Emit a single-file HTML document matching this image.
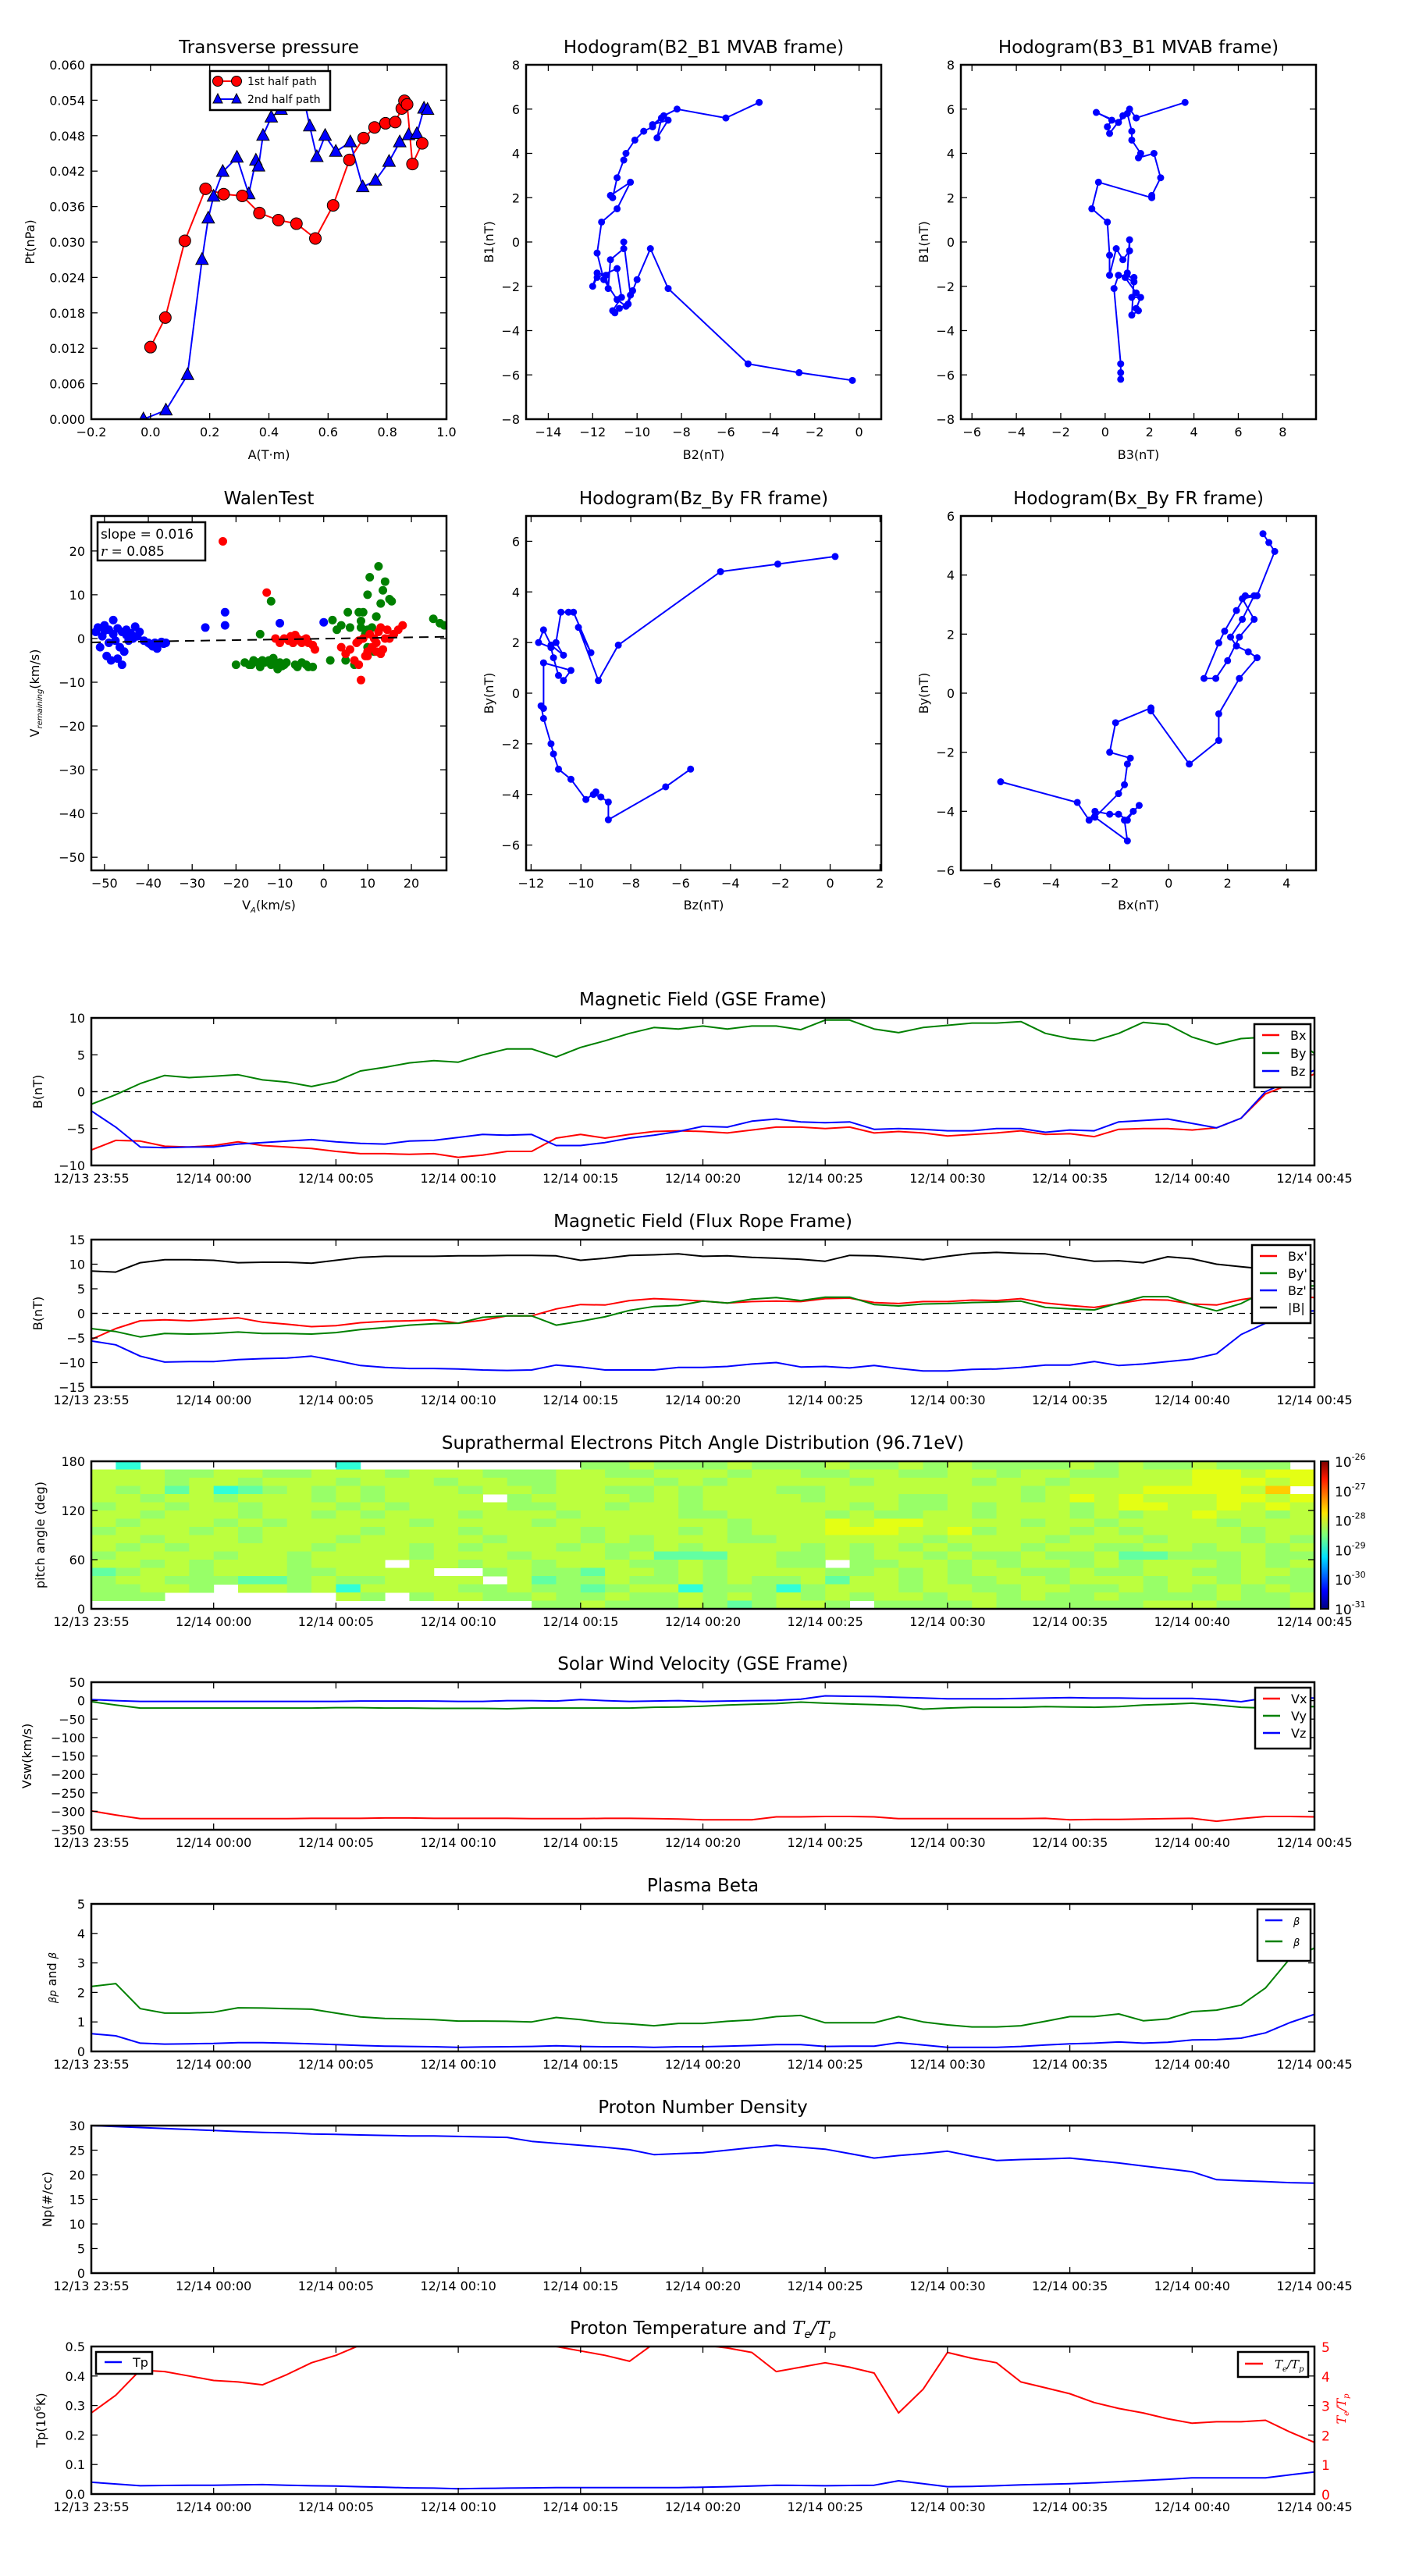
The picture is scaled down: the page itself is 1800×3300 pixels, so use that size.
<!DOCTYPE html>
<html><head><meta charset="utf-8"><style>
html,body{margin:0;padding:0;background:#fff;}
svg{display:block;font-family:"DejaVu Sans","Liberation Sans",sans-serif;}
</style></head>
<body>
<svg id="fig" xmlns="http://www.w3.org/2000/svg" width="1800" height="3300" viewBox="0 0 1800 3300"></svg>
<script>
// ---------- DATA ----------
const tpA1 = [0.0,0.05,0.116,0.186,0.247,0.31,0.368,0.432,0.493,0.557,0.617,0.672,0.72,0.757,0.794,0.827,0.849,0.858,0.867,0.885,0.918];
const tpP1 = [0.0122,0.0172,0.0302,0.039,0.0381,0.0378,0.0349,0.0337,0.0331,0.0306,0.0362,0.0439,0.0476,0.0494,0.0501,0.0503,0.0526,0.0539,0.0533,0.0432,0.0467];
const tpA2 = [-0.024,0.052,0.125,0.174,0.195,0.213,0.244,0.292,0.332,0.356,0.365,0.38,0.408,0.441,0.52,0.538,0.562,0.59,0.626,0.675,0.717,0.76,0.806,0.842,0.872,0.9,0.924,0.936];
const tpP2 = [0,0.0015,0.0075,0.027,0.034,0.0377,0.0419,0.0443,0.0381,0.0438,0.0428,0.048,0.0511,0.0524,0.0539,0.0496,0.0444,0.048,0.0453,0.0469,0.0393,0.0404,0.0436,0.0469,0.0481,0.0483,0.0526,0.0524];

const h1x = [-0.3,-2.7,-5.0,-8.6,-9.4,-10.0,-10.2,-10.4,-10.8,-11.0,-11.1,-10.7,-10.9,-11.8,-12.0,-11.8,-11.4,-11.3,-11.2,-10.6,-10.6,-10.3,-10.5,-10.9,-11.5,-11.8,-11.6,-10.9,-10.3,-11.2,-11.1,-10.9,-10.6,-10.5,-10.1,-9.7,-9.3,-8.9,-9.1,-8.6,-9.3,-8.8,-8.2,-6.0,-4.5];
const h1y = [-6.25,-5.9,-5.5,-2.1,-0.3,-1.7,-2.2,-2.8,-3.0,-3.2,-3.1,-2.5,-1.2,-1.6,-2.0,-1.4,-1.5,-2.1,-0.8,-0.3,0.0,-2.4,-2.9,-2.6,-1.7,-0.5,0.9,1.5,2.7,2.1,2.0,2.9,3.7,4.0,4.6,5.0,5.2,5.6,4.7,5.5,5.3,5.7,6.0,5.6,6.3];

const h2x = [3.6,1.4,1.1,0.8,0.2,0.1,0.3,-0.4,0.6,1.0,1.2,1.2,1.6,1.5,2.2,2.5,2.1,2.1,-0.3,-0.6,0.1,0.2,0.2,0.5,0.8,1.1,1.1,1.0,1.3,0.9,1.4,1.2,1.6,1.4,1.5,1.2,1.3,0.6,0.4,0.7,0.7,0.7];
const h2y = [6.3,5.6,6.0,5.7,4.9,5.2,5.5,5.85,5.4,5.8,5.0,4.6,4.0,3.8,4.0,2.9,2.1,2.0,2.7,1.5,0.9,-0.6,-1.5,-0.3,-0.8,-0.4,0.1,-1.4,-1.8,-1.6,-2.3,-2.5,-2.5,-3.0,-3.1,-3.3,-1.6,-1.5,-2.1,-5.5,-5.9,-6.2];

const wBx = [-52,-51.5,-51,-50.5,-50,-50,-49.5,-49,-49,-48.5,-48,-48,-47.5,-47,-47,-46.5,-46,-46,-45.5,-45,-45,-44.5,-44,-43.5,-43,-42.5,-42,-41,-40,-39.5,-39,-38.5,-38,-37,-36.5,-36,-27,-22.5,-22.5,-10,0];
const wBy = [1.5,2.5,-2,0.5,1.8,3,-4,2,-1,-5,4.2,1,-0.5,-4.6,2.3,-2,1.5,-6,-3,0.8,2,-0.5,1.2,0,2.7,0.5,1.5,-0.5,-1,-1.3,-1.8,-1,-2.3,-0.8,-1.2,-1,2.5,6,3,3.5,3.7];
const wGx = [-20,-18,-17,-16.5,-16,-15,-14.5,-14,-13.5,-12.5,-12,-11.5,-11,-10.5,-10,-9.5,-9,-8.5,-7,-6.5,-6,-5,-4,-3.5,-2.5,-12,-14.5,1.5,2,3,4,5,5.5,6,7,8,8.5,9,9.5,10,10,10.5,11,11.5,12,12.5,13,13.5,14,15,15.5,16,8.5,10,12,25,26.5,27.5];
const wGy = [-6,-5.5,-6,-6,-5,-5.5,-6.5,-5,-5.5,-5,-6,-4.5,-6,-7,-5.5,-6.3,-6,-5.5,-1,-6,-6.5,-5.5,-6,-6.5,-6.5,8.5,1,-5,4.2,2,3,-5,6,2.5,-6,6,4,6,1,2,10,14,2.5,-3,5,16.5,8,11,13,9,8.5,1,2.5,-2,5,4.5,3.5,3];
const wRx = [-23,-13,-11,-10,-9,-8,-7.5,-7,-6.5,-6,-5.5,-5,-4.5,-4,-3.5,-2.5,-2,4,5,6,7,7.5,8,8.5,9,9.5,10,10.5,11,11.5,12,12.5,13,13.5,14,14.5,15,16,17,18,8,10,12,13];
const wRy = [22.2,10.5,0,-1,0,-0.5,0.5,-1,0.8,0,-0.5,-1,-0.3,0,-1,-1.5,-2.5,-2,-3.5,-2.5,-5,-1,-0.5,-9.5,0,-4,-3,1,-2,0,-1,1.5,-3.5,-2.5,0,2,0,1,2,3,-6,-4,-3,2.5];
const walenSlope = 0.016;
const walenIntercept = -0.05;

const h3x = [0.2,-2.1,-4.4,-8.5,-9.3,-10.1,-9.6,-10.3,-10.5,-10.8,-11.0,-10.7,-11.2,-11.5,-11.7,-11.2,-11.1,-10.9,-10.7,-10.4,-11.5,-11.5,-11.6,-11.5,-11.2,-11.1,-10.9,-10.4,-9.8,-9.4,-9.5,-9.2,-8.9,-8.9,-6.6,-5.6];
const h3y = [5.4,5.1,4.8,1.9,0.5,2.6,1.6,3.2,3.2,3.2,2.0,1.5,1.9,2.5,2.0,1.8,1.4,0.7,0.5,0.9,1.2,-0.6,-0.5,-1.0,-2.0,-2.4,-3.0,-3.4,-4.2,-3.9,-4.0,-4.1,-4.3,-5.0,-3.7,-3.0];

const h4x = [-5.7,-3.1,-2.7,-2.5,-2.0,-1.7,-1.4,-1.2,-1.0,-1.5,-1.4,-2.5,-1.7,-1.5,-1.4,-1.3,-2.0,-1.8,-0.6,-0.6,0.7,1.7,1.7,2.4,3.0,2.7,2.3,2.1,2.5,2.9,2.6,2.3,1.9,1.7,1.2,1.6,2.0,2.4,2.9,2.5,3.0,3.6,3.4,3.2];
const h4y = [-3.0,-3.7,-4.3,-4.0,-4.1,-4.1,-4.3,-4.0,-3.8,-4.3,-5.0,-4.2,-3.4,-3.1,-2.4,-2.2,-2.0,-1.0,-0.5,-0.6,-2.4,-1.6,-0.7,0.5,1.2,1.4,1.6,1.9,2.5,3.3,3.3,2.8,2.1,1.7,0.5,0.5,1.1,1.9,2.5,3.2,3.3,4.8,5.1,5.4];

const timeLabels = ["12/13 23:55","12/14 00:00","12/14 00:05","12/14 00:10","12/14 00:15","12/14 00:20","12/14 00:25","12/14 00:30","12/14 00:35","12/14 00:40","12/14 00:45"];

const gseBx = [-7.9,-6.6,-6.7,-7.4,-7.5,-7.3,-6.8,-7.3,-7.5,-7.7,-8.1,-8.4,-8.4,-8.5,-8.4,-8.9,-8.6,-8.1,-8.1,-6.3,-5.8,-6.3,-5.8,-5.4,-5.3,-5.4,-5.6,-5.2,-4.8,-4.8,-5.0,-4.8,-5.6,-5.4,-5.6,-6.0,-5.8,-5.6,-5.3,-5.8,-5.7,-6.1,-5.1,-5.0,-5.0,-5.2,-4.9,-3.6,-0.3,1.0,2.4];
const gseBy = [-1.7,-0.4,1.1,2.2,1.9,2.1,2.3,1.6,1.3,0.7,1.4,2.8,3.3,3.9,4.2,4.0,5.0,5.8,5.8,4.7,6.0,6.9,7.9,8.7,8.5,8.9,8.5,8.9,8.9,8.4,9.7,9.7,8.5,8.0,8.7,9.0,9.3,9.3,9.5,7.9,7.2,6.9,7.9,9.4,9.1,7.4,6.4,7.2,7.4,7.5,5.2];
const gseBz = [-2.6,-4.8,-7.5,-7.6,-7.5,-7.5,-7.1,-6.9,-6.7,-6.5,-6.8,-7.0,-7.1,-6.7,-6.6,-6.2,-5.8,-5.9,-5.8,-7.3,-7.3,-6.9,-6.3,-5.9,-5.4,-4.7,-4.8,-4.0,-3.7,-4.1,-4.2,-4.1,-5.1,-5.0,-5.1,-5.3,-5.3,-5.0,-5.0,-5.5,-5.2,-5.3,-4.1,-3.9,-3.7,-4.3,-4.9,-3.6,0.0,1.5,2.9];

const frBx = [-5.3,-3.1,-1.5,-1.3,-1.5,-1.2,-0.9,-1.8,-2.2,-2.7,-2.5,-1.9,-1.6,-1.5,-1.3,-2.0,-1.4,-0.5,-0.5,0.9,1.8,1.7,2.6,3.0,2.8,2.5,2.1,2.4,2.5,2.4,3.0,3.1,2.2,2.0,2.4,2.4,2.7,2.6,3.0,2.1,1.6,1.2,2.0,2.8,2.7,1.9,1.7,2.8,3.5,3.5,3.2];
const frBy = [-3.1,-3.7,-4.8,-4.1,-4.2,-4.1,-3.8,-4.1,-4.1,-4.2,-3.9,-3.3,-2.9,-2.4,-2.1,-2.0,-0.8,-0.5,-0.5,-2.4,-1.6,-0.7,0.6,1.4,1.6,2.5,2.1,2.9,3.2,2.6,3.3,3.3,1.8,1.5,1.9,2.0,2.2,2.3,2.5,1.2,0.9,0.7,2.1,3.4,3.4,1.8,0.5,2.0,4.5,5.5,5.6];
const frBz = [-5.6,-6.4,-8.7,-9.9,-9.8,-9.8,-9.4,-9.2,-9.1,-8.7,-9.6,-10.6,-11.0,-11.2,-11.2,-11.3,-11.5,-11.6,-11.5,-10.5,-10.9,-11.5,-11.5,-11.5,-11.0,-11.0,-10.8,-10.3,-10.0,-10.9,-10.8,-11.1,-10.6,-11.2,-11.7,-11.7,-11.4,-11.3,-11.0,-10.5,-10.5,-9.8,-10.6,-10.3,-9.8,-9.3,-8.2,-4.3,-2.0,0.2,0.5];
const frBt = [8.6,8.4,10.3,10.9,10.9,10.8,10.3,10.4,10.4,10.2,10.8,11.4,11.6,11.6,11.6,11.7,11.7,11.8,11.8,11.7,10.8,11.2,11.8,11.9,12.1,11.6,11.7,11.4,11.2,11.0,10.6,11.8,11.7,11.4,10.9,11.6,12.2,12.4,12.2,12.1,11.3,10.6,10.7,10.3,11.5,11.1,10.0,9.5,9.0,7.5,6.5];

// PAD: rows from 170-180 (top) to 0-10 (bottom); one char per minute column
const padLevels = [
 ".1........1.........33433343334334343333434334333.",
 "44433443344434443334433444344334433443443344455455",
 "44434434443444344334444343444443444434434444455545",
 "4342412343434443443443343444334444444434444555546",
 "44344344434344440344443434444344433444345454445545",
 "34434434443434444334434434444443433434443455445454",
 "44344434434344434443444433444434334434443434454434",
 "43444343444443444434444444344454554444344344443444",
 "34443434444344434444344434344455544534443434444344",
 "44344434443444443444343444334444443444434443444343",
 "43434444434443434443433434444343434344344334434434",
 "34444344344443444344434222443343443433433422333433",
 "44343444344404434434443343443303344343443434443434",
 "23443444334444003433244343444433434344334334433443",
 "34433322343344440423343343433424434334434443443433",
 "33443.44341444433433234413331344434433443343434343",
 "333.......43.34433433433434343434434434334333343344",
 "..................3343334323443.333343333334443334."
];
const padColors = {"1":"#30ffd8","2":"#62ffa2","3":"#98ff68","4":"#bcff3e","5":"#e4ff14","6":"#ffcc00","0":"#ffffff","." :"#ffffff"};

const vx = [-299,-310,-320,-320,-320,-320,-320,-320,-320,-319,-319,-319,-318,-318,-319,-319,-319,-319,-320,-320,-320,-319,-319,-320,-321,-323,-323,-323,-315,-315,-314,-314,-315,-320,-320,-320,-320,-320,-320,-319,-323,-322,-322,-321,-320,-319,-327,-320,-314,-314,-315];
const vy = [-3,-12,-20,-20,-20,-20,-20,-20,-20,-20,-19,-19,-20,-20,-21,-21,-21,-22,-20,-20,-20,-20,-20,-18,-17,-15,-12,-10,-8,-4,-7,-9,-11,-13,-23,-20,-18,-18,-18,-16,-17,-18,-16,-12,-10,-7,-12,-18,-20,-17,-16];
const vz = [3,0,-2,-2,-2,-2,-2,-2,-2,-2,-2,-1,-1,-1,-1,-2,-2,0,0,-1,3,0,-2,-1,0,-2,-1,0,1,4,13,12,11,9,7,5,5,5,6,7,8,7,7,6,6,6,3,-3,7,7,7];

const betaP = [0.6,0.53,0.28,0.25,0.26,0.27,0.3,0.3,0.28,0.26,0.23,0.2,0.18,0.17,0.16,0.14,0.15,0.16,0.17,0.19,0.17,0.16,0.16,0.14,0.16,0.16,0.18,0.2,0.23,0.23,0.17,0.18,0.18,0.3,0.22,0.14,0.14,0.14,0.17,0.22,0.26,0.28,0.32,0.28,0.31,0.39,0.4,0.45,0.63,0.98,1.26];
const betaT = [2.2,2.3,1.45,1.3,1.3,1.33,1.48,1.47,1.45,1.43,1.3,1.17,1.12,1.1,1.08,1.03,1.03,1.02,1.0,1.15,1.08,0.97,0.93,0.87,0.95,0.95,1.02,1.07,1.18,1.22,0.97,0.97,0.97,1.18,1.0,0.9,0.83,0.83,0.87,1.02,1.18,1.18,1.27,1.04,1.1,1.35,1.4,1.57,2.15,3.15,3.5];

const np = [30.0,29.8,29.6,29.4,29.2,29.0,28.8,28.6,28.5,28.3,28.2,28.1,28.0,27.9,27.9,27.8,27.7,27.6,26.8,26.4,26.0,25.6,25.1,24.1,24.3,24.5,25.0,25.5,26.0,25.6,25.2,24.3,23.4,23.9,24.3,24.8,23.8,22.9,23.1,23.2,23.4,22.9,22.4,21.8,21.2,20.6,19.0,18.8,18.6,18.4,18.3];

const tp = [0.04,0.034,0.028,0.029,0.03,0.03,0.031,0.032,0.03,0.028,0.027,0.025,0.023,0.021,0.02,0.018,0.019,0.02,0.021,0.022,0.022,0.022,0.022,0.022,0.022,0.023,0.025,0.027,0.03,0.029,0.028,0.029,0.03,0.045,0.035,0.025,0.026,0.028,0.031,0.033,0.035,0.038,0.042,0.046,0.05,0.055,0.055,0.055,0.055,0.065,0.075];
const teTp = [2.75,3.35,4.2,4.15,4.0,3.85,3.8,3.7,4.05,4.45,4.7,5.05,5.4,5.6,5.6,5.6,5.5,5.4,5.2,5.0,4.85,4.7,4.5,5.1,5.2,5.05,4.95,4.8,4.15,4.3,4.45,4.3,4.1,2.75,3.55,4.8,4.6,4.45,3.8,3.6,3.4,3.1,2.9,2.75,2.55,2.4,2.45,2.45,2.5,2.1,1.75];

// ---------- HELPERS ----------
const NS = "http://www.w3.org/2000/svg";
const svg = document.getElementById('fig');
function mk(tag, attrs, name, parent) {
  const e = document.createElementNS(NS, tag);
  for (const k in attrs) e.setAttribute(k, attrs[k]);
  
  
  (parent || svg).appendChild(e);
  return e;
}
function txt(s, x, y, size, anchor, name, parent, extra) {
  const a = {x:x, y:y, 'font-size':size, 'text-anchor':anchor||'middle', fill:'#000'};
  if (extra) for (const k in extra) a[k] = extra[k];
  const t = mk('text', a, name, parent);
  t.textContent = s;
  return t;
}
const fmtNeg = s => String(s).replace('-', '\u2212');
let clipN = 0;
function makeAxes(id, x0, y0, w, h, xl, yl) {
  const g = mk('g', {}, id, svg);
  const cid = 'clip' + (clipN++);
  const cp = mk('clipPath', {id: cid}, id + '-clip', g);
  mk('rect', {x:x0, y:y0, width:w, height:h}, id + '-clip-rect', cp);
  const X = v => x0 + (v - xl[0]) / (xl[1] - xl[0]) * w;
  const Y = v => y0 + h - (v - yl[0]) / (yl[1] - yl[0]) * h;
  const plot = mk('g', {'clip-path': 'url(#' + cid + ')'}, id + '-plot-area', g);
  return {g, plot, X, Y, x0, y0, w, h};
}
function ticks(ax, xt, xlab, yt, ylab, opts) {
  opts = opts || {};
  const tl = 8, fs = opts.fs || 16;
  xt.forEach((v, i) => {
    const x = ax.X(v);
    mk('line', {x1:x, x2:x, y1:ax.y0 + ax.h, y2:ax.y0 + ax.h - tl, stroke:'#000', 'stroke-width':1.3}, 'x-tick', ax.g);
    mk('line', {x1:x, x2:x, y1:ax.y0, y2:ax.y0 + tl, stroke:'#000', 'stroke-width':1.3}, 'x-tick-top', ax.g);
    if (xlab) txt(xlab[i], x, ax.y0 + ax.h + 22, fs, 'middle', 'x-tick-label', ax.g);
  });
  yt.forEach((v, i) => {
    const y = ax.Y(v);
    mk('line', {x1:ax.x0, x2:ax.x0 + tl, y1:y, y2:y, stroke:'#000', 'stroke-width':1.3}, 'y-tick', ax.g);
    mk('line', {x1:ax.x0 + ax.w, x2:ax.x0 + ax.w - tl, y1:y, y2:y, stroke:'#000', 'stroke-width':1.3}, 'y-tick-right', ax.g);
    if (ylab) txt(ylab[i], ax.x0 - 8, y + 6, fs, 'end', 'y-tick-label', ax.g);
  });
}
function frame(ax) {
  mk('rect', {x:ax.x0, y:ax.y0, width:ax.w, height:ax.h, fill:'none', stroke:'#000', 'stroke-width':2.5}, 'axes-frame', ax.g);
}
function line(ax, xs, ys, color, name, extra) {
  const pts = xs.map((x, i) => ax.X(x).toFixed(1) + ',' + ax.Y(ys[i]).toFixed(1)).join(' ');
  const a = {points:pts, fill:'none', stroke:color, 'stroke-width':2, 'stroke-linejoin':'round'};
  if (extra) for (const k in extra) a[k] = extra[k];
  return mk('polyline', a, name, ax.plot);
}
function dots(ax, xs, ys, color, r, name) {
  xs.forEach((x, i) => {
    mk('circle', {cx:ax.X(x), cy:ax.Y(ys[i]), r:r, fill:color}, name, ax.plot);
  });
}
function title(s, cx, y, name) { return txt(s, cx, y, 23, 'middle', name, svg); }
function ylabel(s, x, cy, name, extra) {
  return txt(s, x, cy, 16, 'middle', name, svg, Object.assign({transform:'rotate(-90 ' + x + ' ' + cy + ')'}, extra || {}));
}
function range(a, b, s) { const r = []; for (let v = a; v <= b + 1e-9; v += s) r.push(+v.toFixed(6)); return r; }
function legend(x, y, w, entries, spacing, name, fs) {
  const g = mk('g', {}, name, svg);
  const h = entries.length * spacing + 12;
  mk('rect', {x:x, y:y, width:w, height:h, fill:'#fff', stroke:'#000', 'stroke-width':2.5}, name + '-box', g);
  entries.forEach((e, i) => {
    const yy = y + 14 + i * spacing;
    mk('line', {x1:x + 10, x2:x + 32, y1:yy, y2:yy, stroke:e[1], 'stroke-width':2.5}, 'legend-line', g);
    const t = txt(e[0], x + 46, yy + 6, fs || 16, 'start', 'legend-entry', g, e[2] || {});
  });
  return g;
}

// ---------- ROW 1 ----------
const PX = [117, 674, 1231], PW = 455;
const R1 = 83, R2 = 661, RH = 454;

// Transverse pressure
(function(){
  const ax = makeAxes('transverse-pressure-plot', PX[0], R1, PW, RH, [-0.2, 1.0], [0, 0.06]);
  const xt = range(-0.2, 1.0, 0.2);
  const yt = range(0, 0.06, 0.006);
  ticks(ax, xt, xt.map(v => fmtNeg(v.toFixed(1))), yt, yt.map(v => v.toFixed(3)));
  line(ax, tpA1, tpP1, '#ff0000', 'first-half-line');
  line(ax, tpA2, tpP2, '#0000ff', 'second-half-line');
  tpA2.forEach((a, i) => {
    const x = ax.X(a), y = ax.Y(tpP2[i]);
    mk('polygon', {points:(x)+','+(y-9)+' '+(x-8)+','+(y+6)+' '+(x+8)+','+(y+6), fill:'#0000ff', stroke:'#000', 'stroke-width':1}, 'second-half-marker', ax.plot);
  });
  tpA1.forEach((a, i) => {
    mk('circle', {cx:ax.X(a), cy:ax.Y(tpP1[i]), r:7.5, fill:'#ff0000', stroke:'#000', 'stroke-width':1}, 'first-half-marker', ax.plot);
  });
  frame(ax);
  const lg = mk('g', {}, 'pressure-legend', svg);
  mk('rect', {x:269, y:91, width:154, height:50, fill:'#fff', stroke:'#000', 'stroke-width':2.5}, 'legend-box', lg);
  mk('line', {x1:279, x2:303, y1:104, y2:104, stroke:'#f00', 'stroke-width':2}, 'legend-line', lg);
  mk('circle', {cx:279, cy:104, r:6.5, fill:'#f00', stroke:'#000'}, 'legend-marker', lg);
  mk('circle', {cx:303, cy:104, r:6.5, fill:'#f00', stroke:'#000'}, 'legend-marker', lg);
  txt('1st half path', 317, 109, 14, 'start', 'legend-entry', lg);
  mk('line', {x1:279, x2:303, y1:127, y2:127, stroke:'#00f', 'stroke-width':2}, 'legend-line', lg);
  mk('polygon', {points:'279,120 273,132 285,132', fill:'#00f', stroke:'#000'}, 'legend-marker', lg);
  mk('polygon', {points:'303,120 297,132 309,132', fill:'#00f', stroke:'#000'}, 'legend-marker', lg);
  txt('2nd half path', 317, 132, 14, 'start', 'legend-entry', lg);
  title('Transverse pressure', PX[0] + PW/2, 68, 'pressure-title');
  txt('A(T\u00b7m)', PX[0] + PW/2, 588, 16, 'middle', 'pressure-x-label', svg);
  ylabel('Pt(nPa)', 44, R1 + RH/2, 'pressure-y-label');
})();

function hodo(id, px, py, xl, yl, xt, yt, xs, ys, tt, xlab, ylab, titleY, xlY) {
  const ax = makeAxes(id, px, py, PW, RH, xl, yl);
  ticks(ax, xt, xt.map(v => fmtNeg(v)), yt, yt.map(v => fmtNeg(v)));
  line(ax, xs, ys, '#0000ff', id + '-line');
  dots(ax, xs, ys, '#0000ff', 4.5, id + '-point');
  frame(ax);
  title(tt, px + PW/2, titleY, id + '-title');
  txt(xlab, px + PW/2, xlY, 16, 'middle', id + '-x-label', svg);
  ylabel(ylab, px - 42, py + RH/2, id + '-y-label');
  return ax;
}
hodo('hodogram-b2-b1', PX[1], R1, [-15, 1], [-8, 8], range(-14, 0, 2), range(-8, 8, 2), h1x, h1y, 'Hodogram(B2_B1 MVAB frame)', 'B2(nT)', 'B1(nT)', 68, 588);
hodo('hodogram-b3-b1', PX[2], R1, [-6.5, 9.5], [-8, 8], range(-6, 8, 2), range(-8, 8, 2), h2x, h2y, 'Hodogram(B3_B1 MVAB frame)', 'B3(nT)', 'B1(nT)', 68, 588);

// Walen test
(function(){
  const ax = makeAxes('walen-test-plot', PX[0], R2, PW, RH, [-53, 28], [-53, 28]);
  const xt = range(-50, 20, 10), yt = range(-50, 20, 10);
  ticks(ax, xt, xt.map(v => fmtNeg(v)), yt, yt.map(v => fmtNeg(v)));
  dots(ax, wBx, wBy, '#0000ff', 5.5, 'walen-blue-point');
  dots(ax, wGx, wGy, '#008000', 5.5, 'walen-green-point');
  dots(ax, wRx, wRy, '#ff0000', 5.5, 'walen-red-point');
  mk('line', {x1:ax.X(-53), y1:ax.Y(walenSlope*-53 + walenIntercept), x2:ax.X(28), y2:ax.Y(walenSlope*28 + walenIntercept), stroke:'#000', 'stroke-width':2, 'stroke-dasharray':'12,8'}, 'walen-fit-line', ax.plot);
  frame(ax);
  const lg = mk('g', {}, 'walen-stats-box', svg);
  mk('rect', {x:125, y:669, width:138, height:49, fill:'#fff', stroke:'#000', 'stroke-width':2.5}, 'stats-box', lg);
  txt('slope = 0.016', 129, 690, 17, 'start', 'slope-text', lg);
  const t = txt('', 129, 712, 17, 'start', 'r-text', lg);
  t.innerHTML = '<tspan font-style="italic" font-family="DejaVu Serif, serif">r</tspan> = 0.085';
  title('WalenTest', PX[0] + PW/2, 646, 'walen-title');
  const xl = txt('', PX[0] + PW/2, 1165, 16, 'middle', 'walen-x-label', svg);
  xl.innerHTML = 'V<tspan font-size="10" dy="4" font-style="italic">A</tspan><tspan dy="-4">(km/s)</tspan>';
  const yl = ylabel('', 50, R2 + RH/2, 'walen-y-label');
  yl.innerHTML = 'V<tspan font-size="10" dy="4" font-style="italic">remaining</tspan><tspan dy="-4">(km/s)</tspan>';
})();

hodo('hodogram-bz-by', PX[1], R2, [-12.2, 2.05], [-7, 7], range(-12, 2, 2), range(-6, 6, 2), h3x, h3y, 'Hodogram(Bz_By FR frame)', 'Bz(nT)', 'By(nT)', 646, 1165);
hodo('hodogram-bx-by', PX[2], R2, [-7.05, 5.0], [-6, 6], range(-6, 4, 2), range(-6, 6, 2), h4x, h4y, 'Hodogram(Bx_By FR frame)', 'Bx(nT)', 'By(nT)', 646, 1165);

// ---------- TIME SERIES ----------
const TX = 117, TW = 1567, TH = 189;
const TOPS = [1304, 1588, 1872, 2155, 2439, 2723, 3006];
const mins = gseBx.map((_, i) => i);
const tTicks = range(0, 50, 5);

function tsAxes(id, k, yl, yt, ylabs, w) {
  const ax = makeAxes(id, TX, TOPS[k], w || TW, TH, [0, 50], yl);
  ticks(ax, tTicks, timeLabels, yt, ylabs);
  return ax;
}

// GSE
(function(){
  const yt = range(-10, 10, 5);
  const ax = tsAxes('mag-gse-plot', 0, [-10, 10], yt, yt.map(fmtNeg));
  mk('line', {x1:ax.X(0), x2:ax.X(50), y1:ax.Y(0), y2:ax.Y(0), stroke:'#000', 'stroke-width':1.2, 'stroke-dasharray':'8,6'}, 'zero-line', ax.plot);
  line(ax, mins, gseBx, '#ff0000', 'bx-line');
  line(ax, mins, gseBy, '#008000', 'by-line');
  line(ax, mins, gseBz, '#0000ff', 'bz-line');
  frame(ax);
  legend(1607, 1312, 72, [['Bx','#f00'],['By','#008000'],['Bz','#00f']], 23, 'gse-legend');
  title('Magnetic Field (GSE Frame)', TX + TW/2, TOPS[0] - 16, 'gse-title');
  ylabel('B(nT)', 54, TOPS[0] + TH/2, 'gse-y-label');
})();

// Flux rope
(function(){
  const yt = range(-15, 15, 5);
  const ax = tsAxes('mag-fr-plot', 1, [-15, 15], yt, yt.map(fmtNeg));
  mk('line', {x1:ax.X(0), x2:ax.X(50), y1:ax.Y(0), y2:ax.Y(0), stroke:'#000', 'stroke-width':1.2, 'stroke-dasharray':'8,6'}, 'zero-line', ax.plot);
  line(ax, mins, frBx, '#ff0000', 'bx-prime-line');
  line(ax, mins, frBy, '#008000', 'by-prime-line');
  line(ax, mins, frBz, '#0000ff', 'bz-prime-line');
  line(ax, mins, frBt, '#000000', 'b-total-line');
  frame(ax);
  legend(1604, 1595, 75, [["Bx'",'#f00'],["By'",'#008000'],["Bz'",'#00f'],['|B|','#000']], 22, 'fr-legend');
  title('Magnetic Field (Flux Rope Frame)', TX + TW/2, TOPS[1] - 16, 'fr-title');
  ylabel('B(nT)', 54, TOPS[1] + TH/2, 'fr-y-label');
})();

// PAD
(function(){
  const W = 1566;
  const ax = tsAxes('pad-plot', 2, [0, 180], [0, 60, 120, 180], ['0','60','120','180']);
  const nb = padLevels.length;
  padLevels.forEach((row, r) => {
    const lo = 180 - (r + 1) * (180 / nb), hi = 180 - r * (180 / nb);
    for (let c = 0; c < 50; c++) {
      const ch = row[c] || '.';
      if (ch === '.' || ch === '0') continue;
      mk('rect', {x:ax.X(c), y:ax.Y(hi), width:ax.X(c+1) - ax.X(c) + 0.5, height:ax.Y(lo) - ax.Y(hi) + 0.5, fill:padColors[ch]}, 'pad-cell', ax.plot);
    }
  });
  frame(ax);
  // colorbar
  const cb = mk('g', {}, 'colorbar', svg);
  const defs = mk('defs', {}, 'colorbar-defs', cb);
  const lg = mk('linearGradient', {id:'jet', x1:0, y1:1, x2:0, y2:0}, 'jet-gradient', defs);
  [['0','#00007f'],['0.12','#0000ff'],['0.35','#00e0ff'],['0.5','#7dff7a'],['0.65','#ffe600'],['0.88','#ff1a00'],['1','#7f0000']].forEach(s => {
    mk('stop', {offset:s[0], 'stop-color':s[1]}, 'gradient-stop', lg);
  });
  mk('rect', {x:1692, y:TOPS[2], width:10, height:TH, fill:'url(#jet)', stroke:'#000', 'stroke-width':2}, 'colorbar-bar', cb);
  const exps = ['-26','-27','-28','-29','-30','-31'];
  exps.forEach((e, i) => {
    const y = TOPS[2] + i * TH / 5;
    const t = txt('', 1710, y + 7, 17, 'start', 'colorbar-tick-label', cb);
    t.innerHTML = '10<tspan font-size="11" dy="-9">' + e + '</tspan>';
  });
  title('Suprathermal Electrons Pitch Angle Distribution (96.71eV)', TX + TW/2, TOPS[2] - 16, 'pad-title');
  ylabel('pitch angle (deg)', 57, TOPS[2] + TH/2, 'pad-y-label');
})();

// Vsw
(function(){
  const yt = range(-350, 50, 50);
  const ax = tsAxes('vsw-plot', 3, [-350, 50], yt, yt.map(fmtNeg));
  line(ax, mins, vx, '#ff0000', 'vx-line');
  line(ax, mins, vy, '#008000', 'vy-line');
  line(ax, mins, vz, '#0000ff', 'vz-line');
  frame(ax);
  legend(1608, 2162, 71, [['Vx','#f00'],['Vy','#008000'],['Vz','#00f']], 22, 'vsw-legend');
  title('Solar Wind Velocity (GSE Frame)', TX + TW/2, TOPS[3] - 16, 'vsw-title');
  ylabel('Vsw(km/s)', 40, TOPS[3] + TH/2, 'vsw-y-label');
})();

// Beta
(function(){
  const yt = range(0, 5, 1);
  const ax = tsAxes('beta-plot', 4, [0, 5], yt, yt.map(String));
  line(ax, mins, betaP, '#0000ff', 'beta-p-line');
  line(ax, mins, betaT, '#008000', 'beta-line');
  frame(ax);
  const g = legend(1611, 2446, 68, [['\u03b2','#00f',{'font-style':'italic','font-size':13}],['\u03b2','#008000',{'font-style':'italic','font-size':13}]], 27, 'beta-legend');
  title('Plasma Beta', TX + TW/2, TOPS[4] - 16, 'beta-title');
  const yl = ylabel('', 72, TOPS[4] + TH/2, 'beta-y-label');
  yl.innerHTML = '<tspan font-style="italic" font-size="13">\u03b2p</tspan> and <tspan font-style="italic" font-size="13">\u03b2</tspan>';
})();

// Np
(function(){
  const yt = range(0, 30, 5);
  const ax = tsAxes('np-plot', 5, [0, 30], yt, yt.map(String));
  line(ax, mins, np, '#0000ff', 'np-line');
  frame(ax);
  title('Proton Number Density', TX + TW/2, TOPS[5] - 16, 'np-title');
  ylabel('Np(#/cc)', 66, TOPS[5] + TH/2, 'np-y-label');
})();

// Temperature
(function(){
  const yt = range(0, 0.5, 0.1);
  const ax = tsAxes('temp-plot', 6, [0, 0.5], yt, yt.map(v => v.toFixed(1)));
  line(ax, mins, tp, '#0000ff', 'tp-line');
  const ax2 = {X:ax.X, Y: v => ax.y0 + ax.h - v / 5 * ax.h, plot:ax.plot};
  line(ax2, mins, teTp, '#ff0000', 'te-tp-line');
  [0,1,2,3,4,5].forEach(v => {
    txt(String(v), 1693, ax2.Y(v) + 7, 17, 'start', 'right-tick-label', svg, {fill:'#f00'});
  });
  frame(ax);
  const g1 = mk('g', {}, 'tp-legend', svg);
  mk('rect', {x:123, y:3013, width:72, height:28, fill:'#fff', stroke:'#000', 'stroke-width':2.5}, 'legend-box', g1);
  mk('line', {x1:134, x2:156, y1:3026, y2:3026, stroke:'#00f', 'stroke-width':2.5}, 'legend-line', g1);
  txt('Tp', 170, 3032, 16, 'start', 'legend-entry', g1);
  const g2 = mk('g', {}, 'te-tp-legend', svg);
  mk('rect', {x:1586, y:3013, width:90, height:32, fill:'#fff', stroke:'#000', 'stroke-width':2.5}, 'legend-box', g2);
  mk('line', {x1:1595, x2:1618, y1:3028, y2:3028, stroke:'#f00', 'stroke-width':2.5}, 'legend-line', g2);
  const lt = txt('', 1633, 3034, 15, 'start', 'legend-entry', g2, {'font-style':'italic','font-family':'DejaVu Serif, serif'});
  lt.innerHTML = 'T<tspan font-size="10" dy="4">e</tspan><tspan dy="-4">/T</tspan><tspan font-size="10" dy="4">p</tspan>';
  const tt = txt('', TX + TW/2, TOPS[6] - 16, 23, 'middle', 'temp-title', svg);
  tt.innerHTML = 'Proton Temperature and <tspan font-style="italic" font-family="DejaVu Serif, serif">T</tspan><tspan font-size="14" dy="5" font-style="italic">e</tspan><tspan dy="-5" font-style="italic" font-family="DejaVu Serif, serif">/T</tspan><tspan font-size="14" dy="5" font-style="italic">p</tspan>';
  const yl = ylabel('', 58, TOPS[6] + TH/2, 'temp-y-label');
  yl.innerHTML = 'Tp(10<tspan font-size="11" dy="-6">6</tspan><tspan dy="6">K)</tspan>';
  const ry = txt('', 1724, TOPS[6] + 80, 16, 'middle', 'te-tp-axis-label', svg, {fill:'#f00','font-style':'italic','font-family':'DejaVu Serif, serif',transform:'rotate(-90 1724 ' + (TOPS[6] + 80) + ')'});
  ry.innerHTML = 'T<tspan font-size="10" dy="4">e</tspan><tspan dy="-4">/T</tspan><tspan font-size="10" dy="4">p</tspan>';
})();
</script>
</body></html>
